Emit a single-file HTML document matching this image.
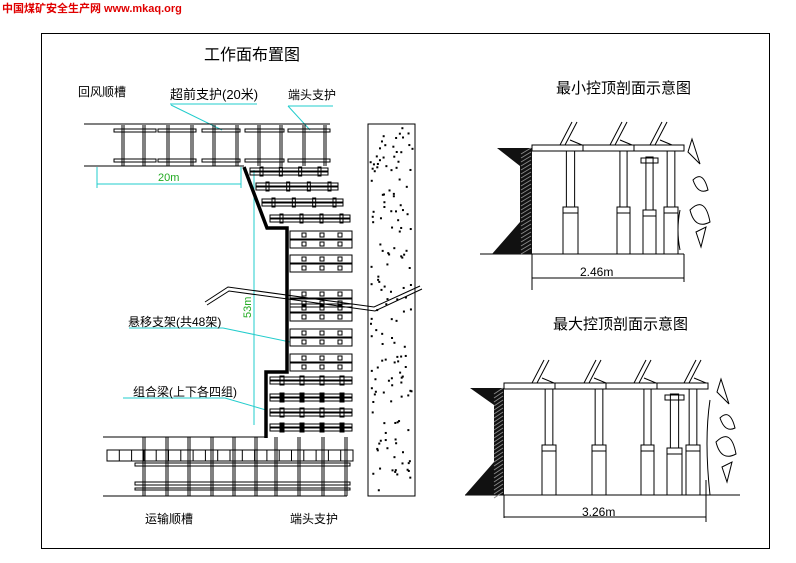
<!DOCTYPE html>
<html><head><meta charset="utf-8"><style>
html,body{margin:0;padding:0;background:#fff}
svg{display:block}
text{font-family:"Liberation Sans","Noto Sans CJK SC",sans-serif}
</style></head><body>
<svg id="s" width="796" height="563" viewBox="0 0 796 563" xmlns="http://www.w3.org/2000/svg">
<text x="2" y="12" font-size="11" font-weight="bold" fill="#e00000" font-family="'Liberation Serif','Noto Serif CJK SC',serif">中国煤矿安全生产网 www.mkaq.org</text>
<rect x="41.5" y="33.5" width="728" height="515" fill="none" stroke="#000"/>
<text x="204" y="60" font-size="16">工作面布置图</text>
<text x="78" y="96" font-size="12">回风顺槽</text>
<text x="170" y="99" font-size="13">超前支护(20米)</text>
<text x="288" y="99" font-size="12">端头支护</text>
<g stroke="#2cc" fill="none">
<line x1="170" y1="104" x2="257" y2="104"/><line x1="171" y1="105" x2="222" y2="130"/>
<line x1="288" y1="106" x2="333" y2="106"/><line x1="288" y1="106" x2="310" y2="130"/>
<line x1="97" y1="184" x2="241" y2="184"/><line x1="97" y1="167" x2="97" y2="188"/><line x1="241" y1="167" x2="241" y2="188"/>
<line x1="254" y1="170" x2="254" y2="425"/><line x1="246" y1="437" x2="262" y2="437"/>
<line x1="129" y1="328" x2="223" y2="328"/><line x1="223" y1="328" x2="290" y2="342"/>
<line x1="123" y1="398" x2="225" y2="398"/><line x1="225" y1="398" x2="266" y2="410"/>
</g>
<text x="158" y="181" font-size="11" fill="#2a2">20m</text>
<text transform="translate(251,318) rotate(-90)" font-size="11" fill="#2a2">53m</text>
<text x="128" y="326" font-size="12">悬移支架(共48架)</text>
<text x="133" y="396" font-size="12">组合梁(上下各四组)</text>
<text x="145" y="523" font-size="12">运输顺槽</text>
<text x="290" y="523" font-size="12">端头支护</text>
<g stroke="#000" fill="none" id="g1">
<line x1="84" y1="124" x2="330" y2="124"/><line x1="84" y1="166" x2="244" y2="166"/>
<polyline points="244,167 267,228 287,228 287,372 266,372 266,438" stroke-width="3.5"/>
<polyline points="205,302 228,287 374,307 420,286" /><polyline points="207,305 229,291 375,311 422,289"/>
<rect x="368" y="124" width="47" height="372"/>
<line x1="103" y1="437" x2="266" y2="437"/><line x1="103" y1="496" x2="347" y2="496"/>
<rect x="107" y="450" width="246" height="11"/>
</g>
<text x="556" y="93" font-size="15">最小控顶剖面示意图</text>
<text x="553" y="329" font-size="15">最大控顶剖面示意图</text>
<g stroke="#000" fill="none">
<rect x="532" y="145" width="152" height="6"/><line x1="583" y1="145" x2="583" y2="151"/><line x1="634" y1="145" x2="634" y2="151"/>
<line x1="480" y1="254" x2="684" y2="254"/>
<line x1="532" y1="254" x2="532" y2="290"/><line x1="684" y1="254" x2="684" y2="282"/><line x1="532" y1="278" x2="684" y2="278"/>
<rect x="504" y="383" width="204" height="6"/><line x1="555" y1="383" x2="555" y2="389"/><line x1="606" y1="383" x2="606" y2="389"/><line x1="657" y1="383" x2="657" y2="389"/>
<line x1="465" y1="495" x2="740" y2="495"/>
<line x1="504" y1="495" x2="504" y2="518"/><line x1="706" y1="480" x2="706" y2="522"/><line x1="504" y1="517" x2="706" y2="517"/>
<path d="M688,152 l12,12 l-8,-25 z M693,180 q10,-10 15,10 q-10,5 -15,-10 z M690,210 q15,-15 20,12 q-15,8 -20,-12 z M696,232 l10,-5 l-5,20 z"/>
<path d="M717,392 l12,12 l-8,-25 z M720,418 q10,-10 15,10 q-10,5 -15,-10 z M716,442 q15,-15 20,12 q-15,8 -20,-12 z M722,467 l10,-5 l-5,20 z"/>
<path d="M680,210 q-4,20 0,40 M710,400 q-6,40 0,95"/>
</g>
<polygon points="497,148 532,148 532,254 492,254 520,222 520,166" fill="#111"/>
<polygon points="470,388 504,388 504,495 465,495 494,462 494,405" fill="#111"/>
<text x="580" y="276" font-size="12">2.46m</text>
<text x="582" y="516" font-size="12">3.26m</text>
</svg>
<script>
const s=document.getElementById('s'),N='http://www.w3.org/2000/svg';
function L(x1,y1,x2,y2,c,w){const e=document.createElementNS(N,'line');e.setAttribute('x1',x1);e.setAttribute('y1',y1);e.setAttribute('x2',x2);e.setAttribute('y2',y2);e.setAttribute('stroke',c||'#000');if(w)e.setAttribute('stroke-width',w);s.appendChild(e);}
function R(x,y,w,h,f){const e=document.createElementNS(N,'rect');e.setAttribute('x',x);e.setAttribute('y',y);e.setAttribute('width',w);e.setAttribute('height',h);e.setAttribute('fill',f||'none');e.setAttribute('stroke','#000');s.appendChild(e);}
[[114,156],[158,196],[202,240],[245,284],[288,330]].forEach(([a,b])=>{R(a,129,b-a,3);R(a,159,b-a,3);});
[122,143,167,191,213,236,258,280,303,324].forEach(x=>{L(x,125,x,166);L(x+2,125,x+2,166);});
[[171,250,328],[186,256,338],[202,262,343],[218,270,350]].forEach(([y,a,b])=>{R(a,y-3,b-a,3);R(a,y+1,b-a,3);for(let i=0;i<4;i++){R(a+10+i*(b-a-20)/3,y-4,3,9);}});
[231,255,290,304,329,354].forEach(y=>{R(290,y,62,8);R(290,y+9,62,8);[304,322,340].forEach(x=>{R(x-2,y+2,4,4);R(x-2,y+11,4,4);});});
[380,397,412,427].forEach((y,k)=>{R(270,y-3,82,3);R(270,y+1,82,3);[282,302,322,342].forEach(x=>R(x-2,y-4,4,9,k%2?'#000':'none'));});
for(let x=107;x<353;x+=12.3)L(x,450,x,461);
R(135,463,215,3);R(135,482,215,3);R(135,488,215,2);
[143,166,188,211,233,255,275,298,322,345].forEach(x=>{L(x,437,x,496);L(x+2,437,x+2,496);});
let seed=3;function rnd(){seed=(seed*9301+49297)%233280;return seed/233280;}
for(let i=0;i<150;i++){R(370+rnd()*42,127+rnd()*366,1,1,'#000');}
for(let y=150;y<254;y+=4)L(521,y+4,531,y-2,'#888');
for(let y=390;y<495;y+=4)L(494,y+4,503,y-2,'#888');
function col(x,w,top,mid,bot,cap){const u=w*0.55;R(x+(w-u)/2,top,u,mid-top);R(x,mid,w,6);R(x,mid+6,w,bot-mid-6);if(cap)R(x-2,top+1,w+4,5);}
col(563,15,151,207,254);col(617,13,151,207,254);col(643,13,157,210,254,1);col(664,14,151,207,254);
col(542,14,389,445,495);col(592,14,389,445,495);col(641,13,389,445,495);col(667,15,394,448,495,1);col(686,14,389,445,495);
[560,610,650].forEach(x=>{L(x,145,x+12,122);L(x+5,145,x+17,122);L(x+10,140,x+22,145);});
[532,584,634,684].forEach(x=>{L(x,383,x+12,360);L(x+5,383,x+17,360);L(x+10,378,x+22,383);});
</script>
</body></html>
